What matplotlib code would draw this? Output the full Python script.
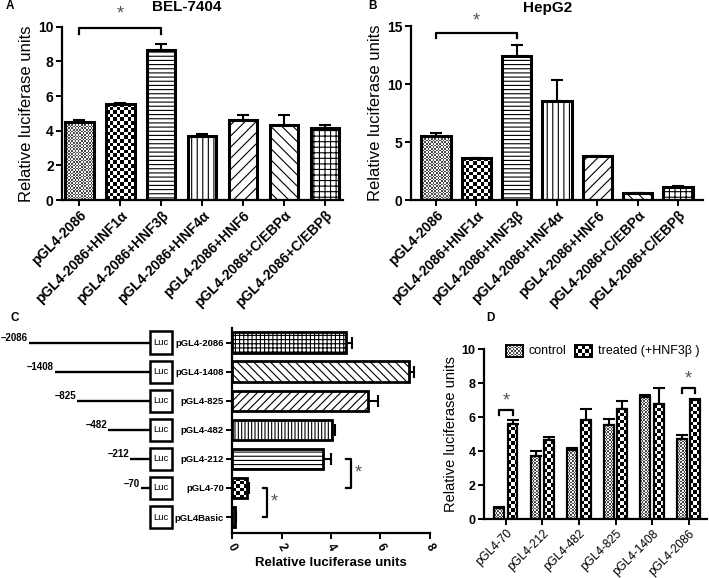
import numpy as np
import matplotlib
matplotlib.use('Agg')
import matplotlib.pyplot as plt
from matplotlib.patches import Rectangle

plt.rcParams['font.family'] = ['Liberation Sans', 'DejaVu Sans']
plt.rcParams['hatch.linewidth'] = 0.8
plt.rcParams['axes.linewidth'] = 1.6

# ---- dados ----
ab_labels = ['pGL4-2086', 'pGL4-2086+HNF1α', 'pGL4-2086+HNF3β', 'pGL4-2086+HNF4α',
             'pGL4-2086+HNF6', 'pGL4-2086+C/EBPα', 'pGL4-2086+C/EBPβ']
ab_patterns = ['fine', 'checker', '----', '|||', '///', '\\\\\\', '+++']

bel_mean = [4.52, 5.54, 8.65, 3.72, 4.6, 4.35, 4.18]
bel_err = [0.08, 0.08, 0.35, 0.07, 0.33, 0.55, 0.12]

hep_mean = [5.52, 3.6, 12.45, 8.56, 3.78, 0.57, 1.12]
hep_err = [0.28, 0.05, 0.9, 1.78, 0.05, 0.05, 0.05]

c_labels = ['pGL4-2086', 'pGL4-1408', 'pGL4-825', 'pGL4-482', 'pGL4-212', 'pGL4-70', 'pGL4Basic']
c_sites = ['–2086', '–1408', '–825', '–482', '–212', '–70', '']
c_line_len = [121, 95, 73, 42, 20, 9, 0]   # comprimento desenhado no esquema
c_mean = [4.59, 7.17, 5.5, 4.03, 3.67, 0.62, 0.13]
c_err = [0.25, 0.18, 0.4, 0.14, 0.33, 0.05, 0.03]
c_patterns = ['++++', '\\\\\\\\', '////', '|||||', '----', 'checker', '....']

d_labels = ['pGL4-70', 'pGL4-212', 'pGL4-482', 'pGL4-825', 'pGL4-1408', 'pGL4-2086']
d_control = [0.66, 3.7, 4.06, 5.51, 7.17, 4.69]
d_control_err = [0.06, 0.3, 0.09, 0.39, 0.14, 0.24]
d_treated = [5.61, 4.63, 5.8, 6.47, 6.74, 6.98]
d_treated_err = [0.24, 0.2, 0.67, 0.47, 0.98, 0.06]

W, H = 709, 578
fig = plt.figure(figsize=(W / 100, H / 100), dpi=100)


def px_axes(l, t, r, b):
    return fig.add_axes([l / W, 1 - b / H, (r - l) / W, (b - t) / H])


def checker(ax, x0, y0, w, h, cell, trans, clip, lo=0.0, hi=1.0, z=2.5):
    p0 = trans.transform((x0, y0))
    p1 = trans.transform((x0 + w, y0 + h))
    nx = max(1, int(round(abs(p1[0] - p0[0]) / cell)))
    ny = max(1, int(round(abs(p1[1] - p0[1]) / cell)))
    arr = (np.indices((ny, nx)).sum(axis=0) % 2) * (hi - lo) + lo
    im = ax.imshow(arr, extent=(x0, x0 + w, y0, y0 + h), cmap='gray', vmin=0, vmax=1,
                   interpolation='nearest', aspect='auto', transform=trans, zorder=z)
    im.set_clip_path(clip)


def fill_pattern(ax, patch, pat):
    x0, y0 = patch.get_xy()
    w, h = patch.get_width(), patch.get_height()
    tr = patch.get_data_transform()
    if pat == 'checker':
        checker(ax, x0, y0, w, h, 3.6, tr, patch)
    elif pat == 'fine':
        checker(ax, x0, y0, w, h, 1.6, tr, patch, lo=0.3, hi=0.95)
    else:
        patch.set_hatch(pat)


def draw_bars(ax, pos, vals, errs, pats, width, horizontal=False, lw=2.2):
    if horizontal:
        bars = ax.barh(pos, vals, height=width, color='white', edgecolor='black',
                       linewidth=0, zorder=2)
        ax.errorbar(vals, pos, xerr=[np.zeros(len(vals)), errs], fmt='none', ecolor='black',
                    elinewidth=1.5, capsize=4, capthick=1.5, zorder=1)
    else:
        bars = ax.bar(pos, vals, width=width, color='white', edgecolor='black',
                      linewidth=0, zorder=2)
        ax.errorbar(pos, vals, yerr=[np.zeros(len(vals)), errs], fmt='none', ecolor='black',
                    elinewidth=1.5, capsize=4, capthick=1.5, zorder=1)
    for b, p in zip(bars, pats):
        fill_pattern(ax, b, p)
        ax.add_patch(Rectangle(b.get_xy(), b.get_width(), b.get_height(), fill=False,
                               edgecolor='black', linewidth=lw, zorder=3))
    return bars


def style(ax):
    for s in ['top', 'right']:
        ax.spines[s].set_visible(False)
    ax.tick_params(width=1.4, length=4, pad=2)


def bracket_v(ax, x0, x1, y, drop, star_y):
    ax.plot([x0, x0, x1, x1], [y - drop, y, y, y - drop], color='black', lw=1.6,
            clip_on=False, zorder=4)
    ax.text((x0 + x1) / 2, star_y, '*', ha='center', va='center', fontsize=13,
            color='#555555', clip_on=False)


# ---- A: BEL-7404 ----
axA = px_axes(62, 26.7, 343, 200)
xa = np.arange(len(ab_labels))
axA.set_xlim(-0.42, 6.44)
axA.set_ylim(0, 10)
draw_bars(axA, xa, bel_mean, bel_err, ab_patterns, 0.7)
axA.set_xlim(-0.42, 6.44)
axA.set_ylim(0, 10)
axA.set_yticks([0, 2, 4, 6, 8, 10])
axA.set_xticks(xa)
axA.set_xticklabels(ab_labels, rotation=45, ha='right', rotation_mode='anchor',
                    fontsize=10, fontweight='bold')
for t in axA.get_yticklabels():
    t.set_fontweight('bold')
    t.set_fontsize(10)
axA.set_ylabel('Relative luciferase units', fontsize=12, labelpad=3)
style(axA)
bracket_v(axA, 0, 2, 9.9, 0.3, 10.75)

# ---- B: HepG2 ----
axB = px_axes(411, 26, 703, 200)
axB.set_xlim(-0.62, 6.62)
axB.set_ylim(0, 15)
draw_bars(axB, xa, hep_mean, hep_err, ab_patterns, 0.72)
axB.set_xlim(-0.62, 6.62)
axB.set_ylim(0, 15)
axB.set_yticks([0, 5, 10, 15])
axB.set_xticks(xa)
axB.set_xticklabels(ab_labels, rotation=45, ha='right', rotation_mode='anchor',
                    fontsize=10, fontweight='bold')
for t in axB.get_yticklabels():
    t.set_fontweight('bold')
    t.set_fontsize(10)
axB.set_ylabel('Relative luciferase units', fontsize=12, labelpad=3)
style(axB)
bracket_v(axB, 0, 2, 14.42, 0.48, 15.45)

# ---- C: constructs ----
yc = np.arange(len(c_labels))
axC = px_axes(232, 328, 430, 533)
axC.set_xlim(0, 8)
axC.set_ylim(6.55, -0.5)
draw_bars(axC, yc, c_mean, c_err, c_patterns, 0.7, horizontal=True, lw=2.0)
axC.set_xlim(0, 8)
axC.set_ylim(6.55, -0.5)
axC.set_xticks([0, 2, 4, 6, 8])
axC.set_yticks(yc)
axC.set_yticklabels(c_labels, fontsize=6.8, fontweight='bold')
for t in axC.get_xticklabels():
    t.set_fontweight('bold')
    t.set_fontsize(8.5)
    t.set_rotation(-60)
axC.set_xlabel('Relative luciferase units', fontsize=9.5, fontweight='bold', labelpad=3)
style(axC)
# brackets (vertical)
for (x_in, x_out, ya, yb, sx) in [(4.62, 4.8, 4, 5, 5.1), (1.24, 1.42, 5, 6, 1.71)]:
    axC.plot([x_in, x_out, x_out, x_in], [ya, ya, yb, yb], color='black', lw=1.6,
             clip_on=False, zorder=4)
    axC.text(sx, (ya + yb) / 2, '*', ha='center', va='center', fontsize=13, color='#555555')

# schematic
axS = px_axes(0, 328, 232, 533)
axS.set_xlim(0, 232)
axS.set_ylim(6.55, -0.5)
axS.axis('off')
box_x, box_w = 150, 22
for y, ln, site in zip(yc, c_line_len, c_sites):
    if ln > 0:
        axS.plot([box_x - ln, box_x], [y, y], color='black', lw=1.7, solid_capstyle='butt')
        axS.text(box_x - ln - 1, y + 0.02, site, ha='right', va='bottom', fontsize=7,
                 fontweight='bold')
    axS.add_patch(Rectangle((box_x, y - 0.38), box_w, 0.76, facecolor='white',
                            edgecolor='black', linewidth=1.8, zorder=3))
    axS.text(box_x + box_w / 2, y, 'Luc', ha='center', va='center', fontsize=6.8, zorder=4)

# ---- D: control vs treated ----
xd = np.arange(len(d_labels))
axD = px_axes(484, 349, 707, 519)
axD.set_xlim(-0.6, 5.5)
axD.set_ylim(0, 10)
draw_bars(axD, xd - 0.19, d_control, d_control_err, ['fine'] * 6, 0.27, lw=1.6)
draw_bars(axD, xd + 0.18, d_treated, d_treated_err, ['checker'] * 6, 0.27, lw=1.6)
axD.set_xlim(-0.6, 5.5)
axD.set_ylim(0, 10)
axD.set_yticks([0, 2, 4, 6, 8, 10])
axD.set_xticks(xd)
axD.set_xticklabels(d_labels, rotation=45, ha='right', rotation_mode='anchor', fontsize=8.5)
for t in axD.get_yticklabels():
    t.set_fontweight('bold')
    t.set_fontsize(9)
axD.set_ylabel('Relative luciferase units', fontsize=10.5, labelpad=3)
style(axD)
bracket_v(axD, -0.19, 0.18, 6.4, 0.3, 6.95)
bracket_v(axD, 4.81, 5.18, 7.7, 0.3, 8.25)

# legenda manual
for kx, pat, txt in [(0.10, 'fine', 'control'), (0.41, 'checker', 'treated (+HNF3β )')]:
    r = Rectangle((kx, 0.955), 0.075, 0.07, transform=axD.transAxes, facecolor='white',
                  edgecolor='none', clip_on=False, zorder=2)
    axD.add_patch(r)
    fill_pattern(axD, r, pat)
    axD.add_patch(Rectangle((kx, 0.955), 0.075, 0.07, transform=axD.transAxes, fill=False,
                            edgecolor='black', linewidth=1.4, clip_on=False, zorder=3))
    axD.text(kx + 0.1, 0.99, txt, transform=axD.transAxes, ha='left', va='center',
             fontsize=9)
axD.set_xlim(-0.6, 5.5)
axD.set_ylim(0, 10)

# ---- títulos e letras ----
fig.text(187 / W, 1 - 7 / H, 'BEL-7404', ha='center', va='center', fontsize=11,
         fontweight='bold')
fig.text(548 / W, 1 - 8 / H, 'HepG2', ha='center', va='center', fontsize=11,
         fontweight='bold')
for (lx, ly, lt) in [(10, 6, 'A'), (373, 6, 'B'), (15, 318, 'C'), (490, 318, 'D')]:
    fig.text(lx / W, 1 - ly / H, lt, ha='center', va='center', fontsize=8.5, fontweight='bold')

fig.savefig('out.png', dpi=100)
